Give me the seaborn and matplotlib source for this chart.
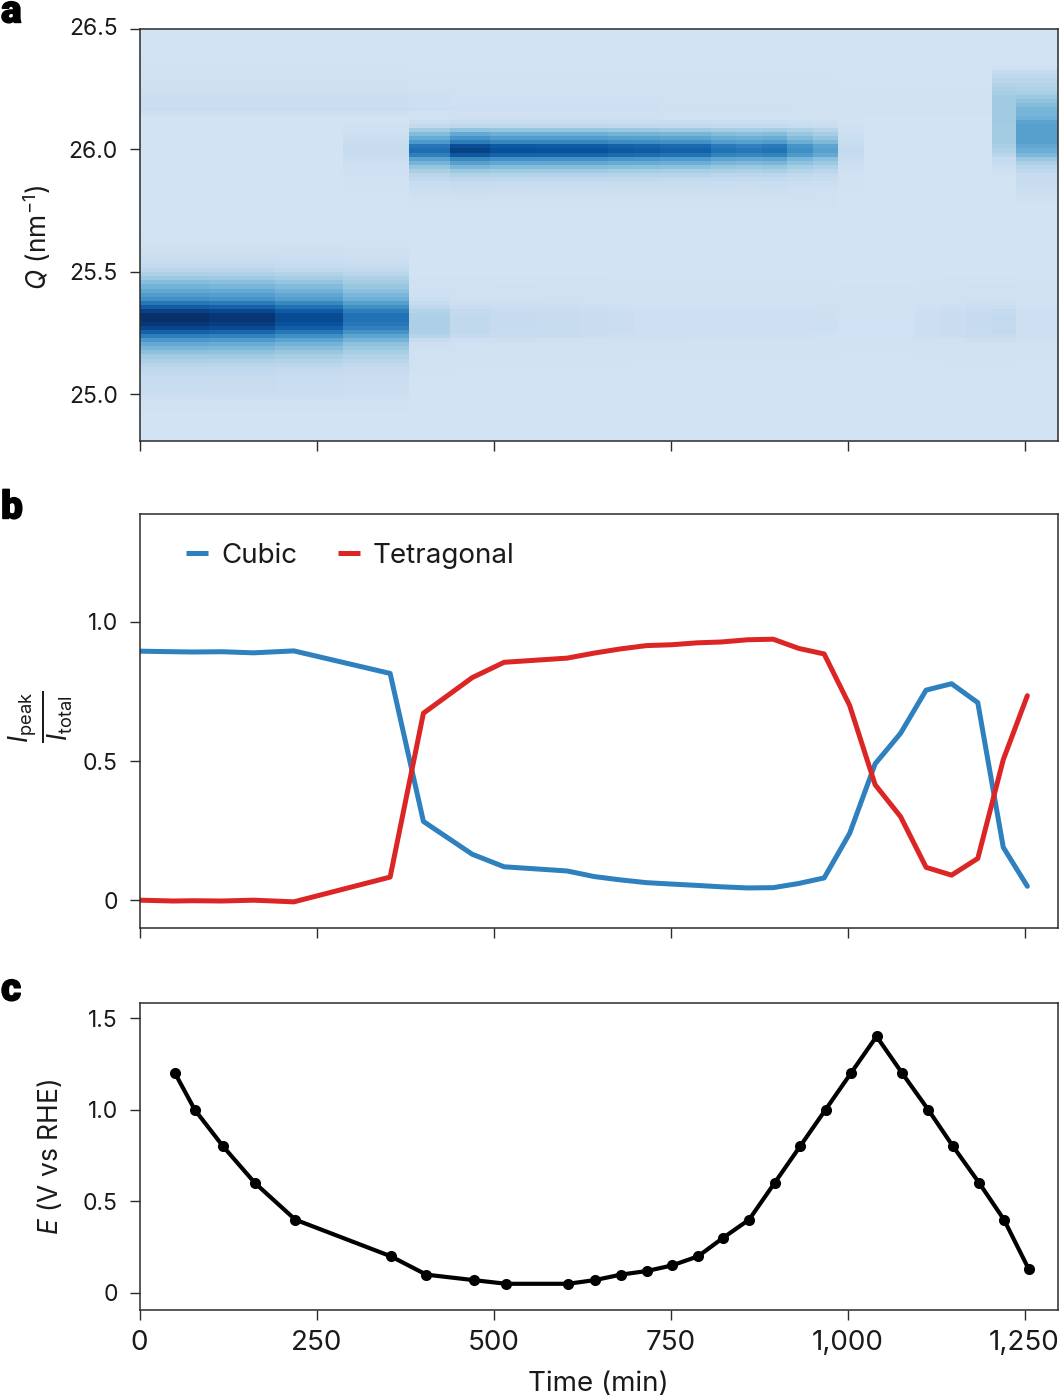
import matplotlib
matplotlib.use('Agg')
import matplotlib.patheffects as pe
import matplotlib.pyplot as plt
import numpy as np
import pandas as pd
import seaborn as sns
from matplotlib.transforms import ScaledTranslation

# potential steps (min), panel c
time_e = [50, 78, 118, 163, 220, 355, 405, 472, 518, 605, 643, 680, 717, 752, 789, 824, 861, 897,
          933, 969, 1005, 1041, 1077, 1114, 1149, 1186, 1221, 1256]
potential = [1.2, 1.0, 0.8, 0.6, 0.4, 0.2, 0.1, 0.07, 0.05, 0.05, 0.07, 0.1, 0.12, 0.15, 0.2, 0.3,
             0.4, 0.6, 0.8, 1.0, 1.2, 1.4, 1.2, 1.0, 0.8, 0.6, 0.4, 0.13]

# phase fractions, panel b
time_b = [0, 48, 76, 116, 161, 218, 354, 401, 470, 515, 604, 642, 679, 716, 751, 788, 822, 859, 895,
          931, 967, 1003, 1039, 1075, 1111, 1147, 1184, 1220, 1254]
cubic = [0.895, 0.893, 0.892, 0.893, 0.889, 0.896, 0.815, 0.283, 0.165, 0.12, 0.105, 0.085, 0.073,
         0.063, 0.058, 0.053, 0.048, 0.044, 0.045, 0.06, 0.08, 0.24, 0.49, 0.60, 0.755, 0.778, 0.71, 0.19, 0.05]
tetragonal = [0.0, -0.003, -0.002, -0.003, 0.0, -0.006, 0.083, 0.672, 0.80, 0.855, 0.87, 0.888, 0.903,
              0.915, 0.918, 0.925, 0.928, 0.936, 0.938, 0.905, 0.885, 0.70, 0.415, 0.30, 0.118, 0.09,
              0.15, 0.505, 0.735]

# heatmap: background level, band shapes per Q row (top row first) and band strength per scan
n_rows = 100
background = 0.19
low_start = 50
low_band = [0.0, 0.005, 0.01, 0.02, 0.03, 0.04, 0.055, 0.07, 0.10, 0.14, 0.19, 0.24, 0.29, 0.34, 0.39, 0.44,
            0.54, 0.64, 0.74, 0.81, 0.81, 0.78, 0.73, 0.62, 0.51, 0.41, 0.33, 0.28, 0.23, 0.18, 0.14, 0.11,
            0.085, 0.07, 0.06, 0.055, 0.05, 0.045, 0.035, 0.025, 0.015, 0.01, 0.005]
high_start = 20
high_band = [0.0, 0.02, 0.05, 0.09, 0.22, 0.33, 0.42, 0.52, 0.70, 0.74, 0.66, 0.47, 0.37, 0.27, 0.19, 0.13,
             0.09, 0.06, 0.045, 0.03, 0.02, 0.012, 0.008, 0.004]
weak_start = 60
weak_band = [0.005, 0.01, 0.012, 0.015, 0.02, 0.03, 0.05, 0.08, 0.12, 0.135, 0.14, 0.14, 0.14, 0.14, 0.11,
             0.05, 0.025, 0.018, 0.015, 0.012, 0.01, 0.008, 0.006, 0.004, 0.002]
top_start = 8
top_band = [0.002, 0.003, 0.005, 0.007, 0.01, 0.015, 0.02, 0.025, 0.03, 0.035, 0.04, 0.045, 0.02]
shoulder_start = 9
shoulder_band = [0.01, 0.06, 0.08, 0.10, 0.12, 0.13, 0.15, 0.19, 0.22, 0.25, 0.28, 0.28, 0.30, 0.36, 0.37,
                 0.37, 0.37, 0.37, 0.37, 0.34, 0.31, 0.26, 0.20, 0.14, 0.10, 0.08, 0.06, 0.05, 0.05, 0.04,
                 0.03, 0.02, 0.01]
flat_start = 9
flat_band = [0.01, 0.06, 0.08, 0.10, 0.12, 0.14, 0.16, 0.18, 0.18, 0.18, 0.18, 0.18, 0.18, 0.18, 0.17, 0.17,
             0.17, 0.17, 0.17, 0.15, 0.13, 0.10, 0.06, 0.05, 0.03, 0.02, 0.01]

low_amp = [1.0, 1.0, 1.0, 0.97, 0.97, 0.87, 0.69] + [0] * 22
high_amp = [0, 0, 0, 0, 0, 0, 0.07, 0.77, 1.0, 0.93, 0.92, 0.92, 0.88, 0.87, 0.84, 0.84, 0.75, 0.72, 0.75,
            0.6, 0.5, 0.09, 0, 0, 0, 0, 0, 0, 0]
weak_amp = [0, 0, 0, 0, 0, 0, 0, 1.0, 0.55, 0.45, 0.4, 0.3, 0.25, 0.2, 0.2, 0.18, 0.18, 0.18, 0.18, 0.18,
            0.15, 0.12, 0.12, 0.12, 0.22, 0.3, 0.45, 0.5, 0.2]
top_amp = [1, 1, 1, 1, 1, 1, 1, 0.7, 0.5, 0.5, 0.5, 0.5, 0.5, 0.5, 0.4, 0.4, 0.4, 0.4, 0.4, 0.3, 0.3, 0.1,
           0.1, 0.1, 0.1, 0.1, 0.1, 0, 0]
shoulder_amp = [0] * 28 + [1]
flat_amp = [0] * 27 + [1, 0]

x_ticks = [0, 250, 500, 750, 1000, 1250]
x_labels = ['0', '250', '500', '750', '1,000', '1,250']


def band(start, values):
    row = np.zeros(n_rows)
    row[start:start + len(values)] = values
    return row


z = np.full((n_rows, len(time_b)), background)
for s, v, a in [(low_start, low_band, low_amp), (high_start, high_band, high_amp),
                (weak_start, weak_band, weak_amp), (top_start, top_band, top_amp),
                (shoulder_start, shoulder_band, shoulder_amp), (flat_start, flat_band, flat_amp)]:
    z = z + np.outer(band(s, v), a)

sns.set_theme(style='ticks')
plt.rcParams['font.family'] = ['Inter', 'DejaVu Sans']
plt.rcParams['mathtext.fontset'] = 'custom'
plt.rcParams['mathtext.rm'] = 'Inter'
plt.rcParams['mathtext.it'] = 'Inter:italic'
plt.rcParams['mathtext.default'] = 'regular'

W, H = 1059, 1398
fig = plt.figure(figsize=(W / 100, H / 100), dpi=100)
dark = '#2b2b2b'
ink = '#1a1a1a'
XMAX = 1297.3


def make_axes(top, bottom):
    ax = fig.add_axes([139.5 / W, 1 - bottom / H, 918.5 / W, (bottom - top) / H])
    ax.set_xlim(0, XMAX)
    ax.set_xticks(x_ticks)
    ax.tick_params(axis='x', length=7.5, width=1.0, color=dark, labelsize=20, labelcolor=ink, pad=7,
                   labelbottom=False)
    ax.tick_params(axis='y', length=7, width=1.0, color=dark, labelsize=16.5, labelcolor=ink, pad=8.5)
    for s in ax.spines.values():
        s.set_linewidth(1.1)
        s.set_color(dark)
    return ax


# a
ax_a = make_axes(29, 441)
t_mid = (np.array(time_e[:-1]) + np.array(time_e[1:])) / 2
x_edges = np.concatenate(([0, 25], t_mid, [XMAX]))
q_edges = np.linspace(26.49, 24.81, n_rows + 1)
ax_a.pcolormesh(x_edges, q_edges, z, cmap='Blues', vmin=0, vmax=1, shading='flat', rasterized=True)
ax_a.set_ylim(24.81, 26.49)
ax_a.set_yticks([25.0, 25.5, 26.0, 26.49], ['25.0', '25.5', '26.0', '26.5'])
ax_a.set_ylabel(r'$\mathit{Q}$ (nm$^{-1}$)', fontsize=19, color=ink)
ax_a.yaxis.set_label_coords((53 - 139.5) / 918.5, 0.495)

# b
ax_b = make_axes(514, 928)
df_b = pd.DataFrame({'time': time_b * 2, 'value': cubic + tetragonal,
                     'phase': ['Cubic'] * len(cubic) + ['Tetragonal'] * len(tetragonal)})
sns.lineplot(data=df_b, x='time', y='value', hue='phase', palette=['#2e80bf', '#dc2626'], linewidth=3.6,
             ax=ax_b, errorbar=None, sort=False)
ax_b.set_xlim(0, XMAX)
ax_b.set_ylim(-0.1, 1.388)
ax_b.set_yticks([0, 0.5, 1.0], ['0', '0.5', '1.0'])
ax_b.set_xlabel('')
ax_b.set_ylabel(r'$\frac{\mathit{I}_{peak}}{\mathit{I}_{total}}$', fontsize=27, color=ink)
ax_b.yaxis.set_label_coords((75 - 139.5) / 918.5, 0.51)
h, l = ax_b.get_legend_handles_labels()
leg = ax_b.legend(h, l, loc='upper left', bbox_to_anchor=(0.0506, 0.93), ncol=2, frameon=False, fontsize=20,
                  handlelength=0.8, handletextpad=0.47, columnspacing=1.45, borderpad=0, borderaxespad=0,
                  labelcolor=ink)
for line in leg.get_lines():
    line.set_solid_capstyle('butt')

# c
ax_c = make_axes(1003, 1310)
sns.lineplot(x=time_e, y=potential, color='black', linewidth=3.0, marker='o', markersize=8,
             markeredgewidth=0, ax=ax_c, errorbar=None, sort=False)
ax_c.set_xlim(0, XMAX)
ax_c.set_ylim(-0.093, 1.582)
ax_c.set_yticks([0, 0.5, 1.0, 1.5], ['0', '0.5', '1.0', '1.5'])
ax_c.set_xticks(x_ticks, x_labels)
ax_c.tick_params(axis='x', labelbottom=True)
ax_c.set_xlabel('')
ax_c.set_ylabel(r'$\mathit{E}$ (V vs RHE)', fontsize=19, color=ink)
ax_c.yaxis.set_label_coords((64 - 139.5) / 918.5, (1310 - 1157) / 307)
fig.text(598 / W, 1 - 1384 / H, 'Time (min)', fontsize=20, color=ink, ha='center', va='center')

# nudge the top tick label of panel a
lab = ax_a.get_yticklabels()[-1]
lab.set_transform(lab.get_transform() + ScaledTranslation(0, 2 / 100, fig.dpi_scale_trans))

for name, y in [('a', 12), ('b', 508), ('c', 990)]:
    fig.text(1 / W, 1 - y / H, name, fontsize=28, fontweight='black', family=['Roboto', 'DejaVu Sans'], ha='left',
             va='center', color='black', path_effects=[pe.withStroke(linewidth=1.0, foreground='black')])

fig.savefig('out.png', dpi=100)
